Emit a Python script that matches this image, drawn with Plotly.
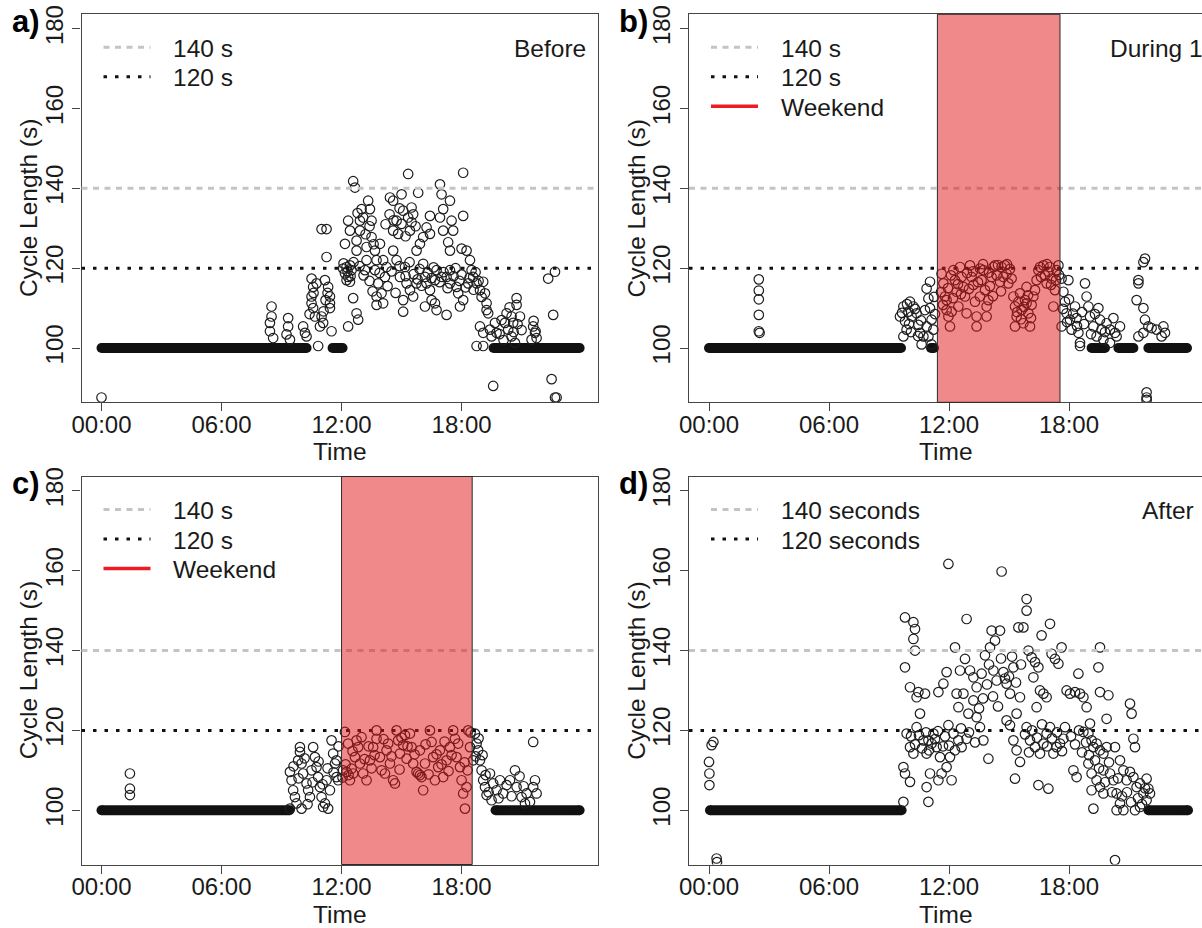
import plotly.graph_objects as go

W, H = 1202, 928
FONT = "Arial, 'Liberation Sans', Helvetica, sans-serif"

# ---------------- data ----------------
xtick_vals = [0, 6, 12, 18]
xtick_text = ["00:00", "06:00", "12:00", "18:00"]
ytick_vals = [100, 120, 140, 160, 180]
y_range = [86.4, 183.6]
ref_hi = 140
ref_lo = 120

# (hour of day, cycle length in s)
a_obs = [
    (0.0, 87.6),
    (8.50, 110.4), (8.50, 107.9), (8.42, 106.3), (8.42, 104.2), (8.58, 102.5),
    (9.33, 107.5), (9.33, 105.4), (9.25, 103.4), (9.42, 102.1), (10.08, 105.4),
    (10.17, 103.8), (10.25, 102.9), (10.50, 117.4), (10.58, 115.3), (10.50, 112.9),
    (10.50, 111.2), (10.58, 110.0), (10.75, 116.2), (11.00, 129.8), (11.25, 129.8),
    (11.25, 122.8), (11.17, 117.0), (11.33, 115.3), (11.42, 112.9), (11.42, 111.2),
    (11.42, 110.0), (11.00, 107.9), (11.08, 106.3), (10.92, 105.4), (11.50, 104.2),
    (10.83, 100.5), (10.67, 107.9), (12.58, 141.8), (12.67, 140.2), (12.33, 131.9),
    (12.42, 129.4), (12.17, 126.1), (12.25, 120.3), (12.17, 118.7), (12.33, 117.8),
    (12.42, 116.6), (12.50, 119.5), (12.75, 126.9), (12.75, 124.4), (12.92, 129.4),
    (12.92, 131.9), (13.00, 134.8), (13.08, 132.7), (13.33, 136.9), (13.42, 134.8),
    (13.50, 131.9), (13.25, 125.3), (13.25, 122.0), (13.17, 119.5), (13.50, 127.8),
    (12.58, 112.5), (12.75, 108.7), (12.83, 107.1), (12.33, 105.4), (13.67, 124.4),
    (13.75, 122.0), (13.67, 119.5), (13.83, 116.2), (13.75, 112.9), (14.08, 111.2),
    (13.92, 126.1), (14.08, 122.0), (14.25, 120.3), (14.17, 117.8), (14.42, 137.7),
    (14.58, 136.9), (14.75, 131.9), (14.58, 129.4), (14.83, 128.6), (15.00, 131.1),
    (15.08, 134.4), (15.00, 138.5), (15.33, 143.6), (15.33, 132.7), (15.42, 129.4),
    (15.58, 133.5), (15.50, 135.2), (14.58, 124.4), (14.75, 122.0), (14.92, 117.8),
    (15.17, 120.3), (15.25, 116.2), (15.08, 112.0), (15.08, 109.1), (15.42, 114.5),
    (15.58, 112.9), (15.75, 116.2), (15.83, 138.9), (15.75, 124.4), (15.92, 126.1),
    (16.08, 127.8), (16.25, 130.2), (16.42, 133.1), (16.42, 128.6), (16.17, 117.8),
    (16.08, 121.1), (16.25, 116.2), (16.42, 114.5), (16.50, 112.0), (16.17, 110.4),
    (16.75, 109.5), (16.67, 111.2), (16.92, 141.0), (17.00, 138.5), (17.08, 134.8),
    (16.92, 132.7), (17.08, 129.4), (17.33, 126.5), (17.42, 124.4), (17.58, 129.4),
    (17.50, 131.9), (17.42, 136.9), (17.25, 108.3), (17.00, 117.8), (17.25, 117.8),
    (17.42, 116.2), (17.75, 115.3), (17.83, 113.7), (18.08, 112.0), (17.92, 110.4),
    (18.08, 143.9), (18.08, 133.1), (18.00, 124.9), (18.25, 124.4), (18.42, 122.0),
    (18.50, 119.5), (18.33, 116.2), (18.58, 117.8), (18.75, 116.2), (18.92, 114.5),
    (19.08, 116.6), (19.17, 113.7), (19.25, 111.2), (19.33, 108.7), (18.92, 105.4),
    (19.08, 103.8), (19.67, 106.3), (19.75, 103.8), (18.75, 100.5), (19.25, 109.5),
    (19.42, 104.6), (19.50, 102.9), (20.25, 108.7), (20.50, 107.9), (20.75, 112.5),
    (20.75, 110.8), (20.58, 106.3), (20.33, 104.6), (20.50, 102.9), (20.67, 101.3),
    (20.92, 107.9), (20.17, 106.3), (19.58, 90.5), (21.58, 105.4), (21.67, 103.8),
    (21.75, 102.5), (21.50, 102.1), (22.33, 117.4), (22.67, 119.1), (22.58, 108.3),
    (22.50, 92.2), (22.67, 87.6), (22.75, 87.6), (12.08, 119.9), (12.42, 120.7),
    (12.25, 117.0), (14.00, 113.7), (13.75, 110.8), (16.67, 117.0), (16.75, 119.5),
    (17.42, 119.5), (19.08, 100.5),
    (15.60, 118.5), (15.80, 117.2), (15.90, 119.8), (16.00, 115.6), (16.30, 118.9),
    (16.50, 117.5), (16.60, 120.2), (16.90, 116.5), (17.10, 119.0), (17.30, 115.0),
    (17.60, 118.0), (17.70, 120.0), (17.90, 116.8), (18.00, 118.4), (18.20, 115.2),
    (18.40, 117.6), (18.60, 114.6), (18.70, 119.0), (18.85, 116.8), (19.00, 112.8),
    (12.10, 121.2), (12.30, 119.2), (12.45, 118.0), (12.60, 121.5), (12.90, 120.5),
    (13.10, 118.2), (13.40, 116.8), (13.55, 114.2), (13.90, 118.8), (14.30, 115.5),
    (14.50, 119.2), (14.70, 113.8), (14.90, 120.5), (15.20, 118.0), (15.40, 121.5),
    (14.20, 131.0), (14.40, 133.5), (14.60, 132.0), (14.90, 135.0), (15.20, 128.0),
    (15.50, 131.5), (15.70, 130.5), (13.20, 128.5), (13.40, 130.5), (12.80, 133.8),
    (13.60, 126.0), (11.20, 112.0), (11.30, 113.8), (11.10, 109.2), (10.60, 113.8),
    (10.40, 108.5), (20.00, 107.0), (20.40, 110.2), (20.60, 104.0), (20.80, 106.0),
    (21.00, 104.5), (20.10, 102.0), (21.60, 106.8), (21.70, 104.2), (19.90, 103.5),
]
a_base_start = [0.0, 11.55, 19.6]
a_base_end = [10.25, 12.05, 23.9]

b_obs = [
    (2.49, 117.2), (2.49, 114.4), (2.49, 112.2), (2.49, 108.3), (2.49, 104.2), (2.53, 103.8),
    (9.72, 110.4), (9.97, 109.1), (10.13, 107.9), (10.22, 110.4), (10.38, 108.7),
    (9.80, 106.7), (9.88, 104.6), (9.72, 102.9), (10.47, 105.8), (10.55, 103.8),
    (10.72, 102.9), (10.63, 100.9), (11.05, 116.6), (10.88, 114.9), (10.97, 112.4),
    (11.05, 110.0), (11.13, 107.1), (11.22, 104.6), (10.88, 105.4), (10.97, 102.9),
    (11.13, 100.9), (9.55, 107.9), (10.05, 111.6),
    (9.65, 108.8), (9.90, 111.0), (10.00, 106.0), (10.30, 109.8), (10.45, 103.0),
    (10.60, 106.9), (10.80, 109.5), (11.25, 112.8), (11.30, 108.5), (10.10, 104.0),
    (11.63, 118.6), (11.72, 116.2), (11.80, 112.9), (11.88, 109.5), (11.97, 107.9),
    (12.05, 105.4), (12.22, 119.5), (12.30, 117.0), (12.38, 114.1), (12.47, 110.4),
    (12.55, 120.3), (12.63, 117.8), (12.72, 115.3), (12.80, 112.9), (12.88, 108.7),
    (13.05, 120.7), (13.13, 117.8), (13.22, 115.8), (13.30, 111.6), (13.38, 107.9),
    (13.38, 105.4), (13.55, 119.9), (13.63, 117.0), (13.72, 119.5), (13.80, 114.5),
    (13.88, 110.4), (13.97, 112.0), (14.13, 117.8), (14.22, 120.3), (14.30, 120.7),
    (14.38, 118.2), (14.55, 116.6), (14.63, 120.3), (14.72, 117.8), (14.80, 120.7),
    (14.88, 118.6), (14.97, 116.2), (15.13, 117.4), (15.22, 112.9), (15.30, 110.4),
    (15.30, 105.4), (15.38, 107.9), (15.47, 111.6), (15.55, 113.7), (15.63, 109.5),
    (15.72, 106.2), (15.80, 112.0), (15.88, 115.3), (15.97, 108.7), (16.05, 105.4),
    (16.13, 110.8), (16.22, 112.9), (16.38, 117.0), (16.47, 119.5), (16.55, 120.3),
    (16.72, 120.7), (16.80, 118.2), (16.88, 116.2), (16.97, 119.1), (17.05, 120.3),
    (17.13, 117.4), (17.22, 110.4), (17.30, 114.5), (17.38, 119.5), (17.47, 120.7),
    (11.88, 112.0), (12.13, 109.1), (13.88, 107.9), (15.88, 111.2), (13.55, 112.9),
    (11.60, 114.0), (11.70, 110.8), (11.95, 115.0), (12.10, 118.2), (12.20, 112.5),
    (12.45, 116.0), (12.60, 113.5), (12.90, 118.8), (13.00, 114.8), (13.20, 119.2),
    (13.45, 116.5), (13.70, 121.0), (14.00, 118.9), (14.05, 115.5), (14.20, 113.0),
    (14.45, 120.8), (14.60, 114.2), (14.90, 121.0), (15.05, 119.8), (15.40, 109.0),
    (15.60, 107.2), (15.75, 110.3), (15.95, 113.2), (16.10, 107.5), (16.30, 114.5),
    (16.60, 117.8), (16.90, 121.0), (17.10, 115.8), (17.35, 117.0), (17.50, 118.3),
    (17.63, 117.4), (17.72, 114.1), (17.80, 111.6), (17.88, 108.7), (17.63, 105.4),
    (17.97, 117.0), (18.05, 107.1), (18.13, 104.6), (18.30, 110.4), (18.38, 107.5),
    (18.47, 103.8), (18.55, 101.3), (18.80, 116.2), (18.88, 112.9), (18.97, 110.4),
    (19.05, 107.9), (19.22, 105.4), (19.38, 102.9), (19.47, 110.0), (19.55, 107.1),
    (19.63, 104.6), (19.72, 102.1), (19.88, 106.2), (20.05, 104.6), (20.22, 107.5),
    (20.30, 103.8), (20.38, 102.9), (20.05, 101.3), (20.55, 105.4), (18.55, 100.5),
    (17.70, 109.8), (17.90, 106.5), (18.00, 112.2), (18.20, 108.6), (18.40, 105.5),
    (18.65, 109.0), (18.75, 106.0), (19.10, 103.5), (19.30, 108.5), (19.80, 104.0),
    (21.72, 121.5), (21.80, 122.4), (21.47, 117.0), (21.47, 116.2), (21.38, 112.0),
    (21.72, 110.0), (21.80, 107.1), (21.97, 105.4), (21.72, 103.8), (22.13, 105.0),
    (22.38, 104.6), (22.72, 105.4), (22.80, 103.8), (22.63, 102.9), (21.47, 102.9),
    (21.88, 88.9), (21.88, 87.6), (21.88, 87.0),
]
b_base_start = [0.0, 11.1, 19.13, 20.47, 21.97]
b_base_end = [9.6, 11.25, 19.8, 21.22, 23.9]
b_weekend = [11.42, 17.55]

c_obs = [
    (1.42, 109.2), (1.42, 105.4), (1.42, 103.8),
    (9.42, 109.6), (9.50, 107.5), (9.58, 105.0), (9.67, 103.3), (9.75, 101.7),
    (9.92, 115.8), (9.92, 114.6), (10.00, 111.7), (10.08, 109.2), (10.25, 106.7),
    (10.33, 105.0), (10.42, 103.3), (10.58, 115.8), (10.67, 113.3), (10.75, 110.8),
    (10.83, 108.3), (10.92, 105.8), (11.00, 103.3), (11.08, 100.8), (11.17, 101.7),
    (11.33, 100.4), (11.50, 117.5), (11.58, 114.2), (11.67, 111.7), (11.75, 108.3),
    (11.83, 107.5), (11.42, 105.0), (11.25, 107.5), (9.42, 100.4), (10.00, 100.4),
    (9.83, 112.5), (10.50, 110.0), (11.75, 112.5),
    (9.60, 111.0), (9.85, 108.0), (10.15, 113.0), (10.30, 101.5), (10.55, 107.0),
    (10.85, 112.2), (11.05, 106.5), (11.30, 110.5), (11.60, 109.5), (11.85, 116.0),
    (12.17, 119.6), (12.25, 109.6), (12.42, 107.5), (12.33, 116.7), (12.58, 109.2),
    (12.67, 113.3), (12.83, 115.8), (12.92, 111.7), (13.00, 118.3), (13.08, 109.2),
    (13.25, 107.5), (13.42, 112.5), (13.58, 115.8), (13.75, 120.0), (13.75, 117.9),
    (13.92, 113.3), (14.00, 110.0), (14.17, 109.2), (14.25, 115.0), (14.33, 116.7),
    (14.42, 111.7), (14.58, 107.5), (14.67, 106.7), (14.75, 120.0), (14.83, 117.5),
    (14.92, 114.2), (15.08, 116.3), (15.17, 118.8), (15.25, 112.9), (15.42, 119.2),
    (15.50, 115.8), (15.58, 111.7), (15.75, 109.6), (15.83, 109.2), (16.00, 108.3),
    (16.08, 105.0), (15.92, 115.0), (16.17, 111.7), (16.42, 120.0), (16.50, 117.1),
    (16.58, 113.3), (16.67, 107.5), (16.83, 110.8), (16.92, 115.0), (17.08, 108.3),
    (17.25, 112.5), (17.42, 115.8), (17.58, 120.0), (17.67, 117.9), (17.75, 113.3),
    (17.92, 110.8), (18.00, 107.5), (18.08, 104.2), (18.17, 100.4), (18.25, 105.8),
    (18.33, 120.0), (18.42, 115.8), (17.83, 116.7), (12.08, 110.0), (12.50, 110.4),
    (15.92, 108.8),
    (12.05, 108.2), (12.20, 111.5), (12.35, 108.8), (12.55, 114.8), (12.75, 117.5),
    (13.15, 112.8), (13.35, 116.0), (13.50, 110.5), (13.65, 113.8), (14.10, 117.8),
    (14.50, 113.5), (14.90, 110.2), (15.00, 118.2), (15.30, 116.0), (15.65, 114.0),
    (16.20, 116.5), (16.35, 109.0), (16.75, 114.0), (17.00, 111.5), (17.15, 117.2),
    (17.35, 109.8), (17.50, 113.8), (18.15, 112.0), (18.45, 119.5), (18.30, 110.0),
    (18.67, 119.2), (18.75, 116.7), (18.83, 115.0), (18.92, 112.5), (19.00, 110.0),
    (19.08, 107.5), (19.17, 105.8), (19.25, 103.8), (19.42, 109.2), (19.58, 106.7),
    (19.75, 105.0), (19.92, 107.5), (20.08, 104.2), (20.25, 106.3), (20.42, 107.5),
    (20.67, 110.0), (20.75, 105.8), (21.00, 103.3), (21.25, 104.2), (21.58, 117.1),
    (21.67, 107.5), (21.58, 105.8), (21.75, 104.2), (21.17, 101.7), (21.42, 102.1),
    (18.58, 112.5),
    (18.70, 113.5), (18.85, 118.0), (19.05, 113.8), (19.20, 108.8), (19.35, 104.5),
    (19.50, 102.5), (19.85, 103.0), (20.50, 103.5), (20.90, 108.5), (21.10, 106.0),
]
c_base_start = [0.0, 19.7]
c_base_end = [9.4, 23.9]
c_weekend = [12.0, 18.53]

d_obs = [
    (0.0, 112.1), (0.02, 109.2), (0.02, 106.3), (0.13, 116.3), (0.22, 117.1),
    (0.38, 87.9), (0.40, 87.0), (20.30, 87.5),
    (9.72, 102.1), (9.80, 148.3), (10.22, 147.1), (10.30, 145.4), (10.22, 142.9),
    (10.30, 140.0), (9.80, 135.8), (10.05, 130.8), (10.47, 129.6), (10.38, 128.3),
    (10.80, 129.2), (9.72, 110.8), (9.80, 109.2), (10.05, 107.1), (9.88, 119.2),
    (10.05, 115.8), (10.22, 114.2), (10.55, 124.2), (10.38, 120.8), (10.72, 117.5),
    (10.97, 117.5), (11.13, 116.7), (11.22, 119.2), (10.88, 114.2), (11.38, 115.8),
    (11.55, 113.3), (11.05, 109.2), (10.88, 105.8), (10.97, 102.1), (11.47, 107.5),
    (11.63, 109.2), (11.88, 110.8), (12.05, 113.3), (12.13, 107.5), (11.97, 121.3),
    (12.22, 119.2), (12.47, 117.5), (12.63, 115.8), (12.88, 117.9), (11.47, 129.6),
    (11.72, 131.7), (11.88, 134.6), (11.97, 161.7), (12.30, 140.8), (12.55, 135.0),
    (12.88, 147.9), (12.80, 137.9), (13.05, 135.0), (13.22, 133.3), (13.38, 130.8),
    (13.63, 134.2), (13.80, 138.8), (12.38, 129.2), (12.47, 125.8), (12.72, 129.2),
    (12.97, 124.2), (13.22, 127.5), (13.38, 123.3), (13.55, 120.8), (13.72, 117.5),
    (13.97, 112.9), (14.13, 145.0), (14.30, 142.5), (14.55, 145.0), (14.05, 140.8),
    (14.22, 135.0), (14.38, 132.5), (14.63, 159.8), (14.72, 134.6), (14.88, 131.7),
    (15.05, 129.2), (15.22, 135.8), (14.88, 122.5), (15.05, 121.3), (15.38, 124.2),
    (15.55, 128.3), (15.22, 117.5), (15.38, 115.0), (15.55, 112.1), (15.30, 107.9),
    (15.47, 145.8), (15.72, 145.8), (15.88, 152.9), (15.88, 150.0), (15.97, 140.0),
    (16.13, 138.3), (16.30, 137.1), (16.47, 135.8), (16.22, 133.3), (16.38, 125.8),
    (16.55, 130.0), (16.72, 129.2), (16.88, 128.3), (16.63, 143.8), (17.05, 146.7),
    (17.13, 139.2), (17.30, 137.9), (17.47, 136.7), (17.63, 140.8), (15.88, 120.8),
    (16.05, 117.5), (16.30, 115.8), (16.55, 114.2), (16.72, 116.7), (16.88, 119.2),
    (17.05, 120.8), (16.47, 106.3), (16.97, 105.4), (17.22, 114.2), (17.38, 115.8),
    (17.55, 116.7), (17.72, 117.9), (17.88, 130.0), (18.05, 129.2), (18.30, 129.6),
    (18.55, 129.2), (18.47, 134.2), (18.72, 128.3), (18.88, 125.8), (19.05, 121.7),
    (18.72, 119.6), (18.97, 119.2), (19.13, 117.5), (19.22, 115.8), (19.38, 116.7),
    (19.55, 115.0), (19.72, 114.2), (19.88, 115.8), (19.55, 140.8), (19.47, 135.8),
    (19.55, 129.6), (19.97, 128.8), (19.88, 122.9), (18.22, 110.0), (18.38, 108.3),
    (18.97, 111.7), (19.13, 109.2), (19.38, 107.5), (19.55, 105.8), (19.72, 104.2),
    (19.13, 105.0), (19.22, 100.4), (19.72, 110.0), (20.05, 109.2), (20.22, 107.5),
    (20.38, 104.2), (20.55, 101.7), (20.72, 100.0), (20.30, 115.8), (20.55, 112.5),
    (20.72, 110.0), (20.88, 107.5), (21.05, 109.6), (21.22, 108.3), (21.38, 105.8),
    (21.05, 126.7), (21.13, 124.2), (21.22, 117.9), (21.30, 115.8), (21.55, 106.7),
    (21.72, 104.2), (21.88, 107.9), (21.97, 105.4), (22.05, 104.2), (21.88, 102.5),
    (21.55, 100.8), (21.30, 100.0), (20.38, 100.0),
    (10.10, 118.5), (10.30, 116.5), (10.50, 118.8), (10.65, 115.5), (10.85, 119.5),
    (11.00, 115.0), (11.30, 117.8), (11.45, 119.8), (11.70, 116.0), (11.80, 118.5),
    (12.00, 116.2), (12.30, 115.0), (12.60, 120.5), (13.00, 119.5), (13.30, 117.0),
    (13.50, 125.5), (13.70, 128.0), (13.90, 131.5), (14.00, 136.5), (14.20, 128.5),
    (14.45, 126.0), (14.60, 138.0), (14.80, 133.0), (15.00, 133.5), (15.15, 138.5),
    (15.35, 132.0), (15.60, 136.5), (15.80, 119.0), (16.00, 114.5), (16.15, 120.0),
    (16.40, 118.2), (16.65, 121.5), (16.90, 116.0), (17.15, 118.0), (17.40, 119.5),
    (17.65, 114.8), (17.80, 120.8), (18.10, 118.5), (18.30, 116.5), (18.50, 120.0),
    (18.65, 114.5), (18.85, 117.0), (19.00, 113.8), (19.30, 112.5), (19.50, 110.5),
    (19.80, 107.0), (20.00, 112.0), (20.15, 104.5), (20.45, 108.0), (20.65, 103.5),
    (20.90, 104.5), (21.10, 102.0), (21.45, 103.0), (21.65, 101.5), (21.80, 105.5),
]
d_base_start = [0.05, 21.97]
d_base_end = [9.63, 23.95]

# ---------------- layout helpers ----------------
def px_x(px):
    return px / W


def px_y(py):
    return 1 - py / H


BOX_H = 388
AX_COL = "#454545"
TXT_COL = "#1a1a1a"

panels = [
    dict(label="a)", obs=a_obs, bs=a_base_start, be=a_base_end, xl=81.5, xr_px=598.0,
         top=14.3, xr=[-1.0, 24.82], box_right=True, weekend=None,
         legend=["140 s", "120 s"], corner="Before", corner_x=587.5, corner_anchor="right"),
    dict(label="b)", obs=b_obs, bs=b_base_start, be=b_base_end, xl=689.0, xr_px=1202.0,
         top=14.3, xr=[-1.0, 24.65], box_right=False, weekend=b_weekend,
         legend=["140 s", "120 s", "Weekend"], corner="During 1", corner_x=1108, corner_anchor="left"),
    dict(label="c)", obs=c_obs, bs=c_base_start, be=c_base_end, xl=81.5, xr_px=598.0,
         top=476.5, xr=[-1.0, 24.82], box_right=True, weekend=c_weekend,
         legend=["140 s", "120 s", "Weekend"], corner=None),
    dict(label="d)", obs=d_obs, bs=d_base_start, be=d_base_end, xl=689.0, xr_px=1202.0,
         top=476.5, xr=[-1.0, 24.65], box_right=False, weekend=None,
         legend=["140 seconds", "120 seconds"], corner="After", corner_x=1140, corner_anchor="left"),
]

fig = go.Figure()
shapes = []
annotations = []
axes = {}

line_styles = [
    dict(color="#C4C4C4", width=3, dash="6px,5.5px"),
    dict(color="#111111", width=3, dash="3.5px,8px"),
    dict(color="#EE1C22", width=3.5, dash="solid"),
]

for i, p in enumerate(panels):
    n = "" if i == 0 else str(i + 1)
    xid, yid = "x" + n, "y" + n
    top, bot = p["top"], p["top"] + BOX_H

    # baseline runs at 100 s
    bx, by = [], []
    for s, e in zip(p["bs"], p["be"]):
        bx += [s, e, None]
        by += [100, 100, None]
    fig.add_trace(go.Scatter(
        x=bx, y=by, xaxis=xid, yaxis=yid, mode="lines+markers",
        line=dict(color="#111111", width=10),
        marker=dict(symbol="circle", size=10, color="#111111", line=dict(width=0)),
        hoverinfo="skip", showlegend=False))
    fig.add_trace(go.Scatter(
        x=[t for t, v in p["obs"]], y=[v for t, v in p["obs"]],
        xaxis=xid, yaxis=yid, mode="markers",
        marker=dict(symbol="circle-open", size=9.5, color="#1e1e1e", line=dict(width=1.2)),
        showlegend=False))

    axes["xaxis" + n] = dict(
        domain=[px_x(p["xl"]), min(1.0, px_x(p["xr_px"]))], range=p["xr"], anchor=yid,
        tickvals=xtick_vals, ticktext=xtick_text, ticks="outside", ticklen=8,
        tickwidth=1.3, tickcolor=AX_COL, showline=True, linecolor=AX_COL, linewidth=1.3,
        mirror=True, showgrid=False, zeroline=False, automargin=False,
        ticklabelstandoff=-7,
        tickfont=dict(size=24, color=TXT_COL, family=FONT))
    axes["yaxis" + n] = dict(
        domain=[px_y(bot), px_y(top)], range=y_range, anchor=xid,
        tickvals=ytick_vals, tickangle=-90, ticks="outside", ticklen=8,
        tickwidth=1.3, tickcolor=AX_COL, showline=True, linecolor=AX_COL, linewidth=1.3,
        mirror=p["box_right"], showgrid=False, zeroline=False, automargin=False,
        tickfont=dict(size=24, color=TXT_COL, family=FONT))

    # axis titles
    xmid = (p["xl"] + min(p["xr_px"], p["xl"] + 516.5)) / 2
    annotations.append(dict(text="Time", xref="paper", yref="paper",
                            x=px_x(xmid), y=px_y(bot + 49.5), xanchor="center",
                            yanchor="middle", showarrow=False,
                            font=dict(size=24.5, color=TXT_COL, family=FONT)))
    annotations.append(dict(text="Cycle Length (s)", xref="paper", yref="paper",
                            x=px_x(p["xl"] - 52.8), y=px_y((top + bot) / 2), xanchor="center",
                            yanchor="middle", textangle=-90, showarrow=False,
                            font=dict(size=24.5, color=TXT_COL, family=FONT)))

    # reference lines 140 / 120
    for val, st in zip([ref_hi, ref_lo], line_styles[:2]):
        shapes.append(dict(type="line", xref=xid + " domain", yref=yid, x0=0, x1=1,
                           y0=val, y1=val, line=st, layer="above"))
    # weekend window
    if p["weekend"] is not None:
        shapes.append(dict(type="rect", xref=xid, yref=yid + " domain",
                           x0=p["weekend"][0], x1=p["weekend"][1], y0=0, y1=1,
                           fillcolor="rgba(225,21,21,0.5)",
                           line=dict(color="#2a2a2a", width=1), layer="above"))

    # legend (no frame)
    for k, txt in enumerate(p["legend"]):
        yy = top + 33 + 29.5 * k
        shapes.append(dict(type="line", xref="paper", yref="paper",
                           x0=px_x(p["xl"] + 22), x1=px_x(p["xl"] + 69),
                           y0=px_y(yy), y1=px_y(yy), line=line_styles[k], layer="above"))
        annotations.append(dict(text=txt, xref="paper", yref="paper",
                                x=px_x(p["xl"] + 89.5), y=px_y(yy + 1), xanchor="left",
                                yanchor="middle", showarrow=False,
                                font=dict(size=24.5, color=TXT_COL, family=FONT)))
    if p["corner"]:
        annotations.append(dict(text=p["corner"], xref="paper", yref="paper",
                                x=px_x(p["corner_x"]), y=px_y(top + 34),
                                xanchor=p["corner_anchor"], yanchor="middle", showarrow=False,
                                font=dict(size=24.5, color=TXT_COL, family=FONT)))
    # panel letter
    annotations.append(dict(text="<b>" + p["label"] + "</b>", xref="paper", yref="paper",
                            x=px_x(p["xl"] - 72), y=px_y(top + 7), xanchor="left",
                            yanchor="middle", showarrow=False,
                            font=dict(size=31, color="#000000", family=FONT)))

fig.update_layout(
    width=W, height=H, margin=dict(l=0, r=0, t=0, b=0),
    paper_bgcolor="white", plot_bgcolor="white",
    font=dict(family=FONT, color=TXT_COL),
    shapes=shapes, annotations=annotations, showlegend=False,
    **axes)

fig.write_html("out.html", config={"displayModeBar": False},
               post_script="document.body.style.margin='0';document.body.style.overflow='hidden';")
